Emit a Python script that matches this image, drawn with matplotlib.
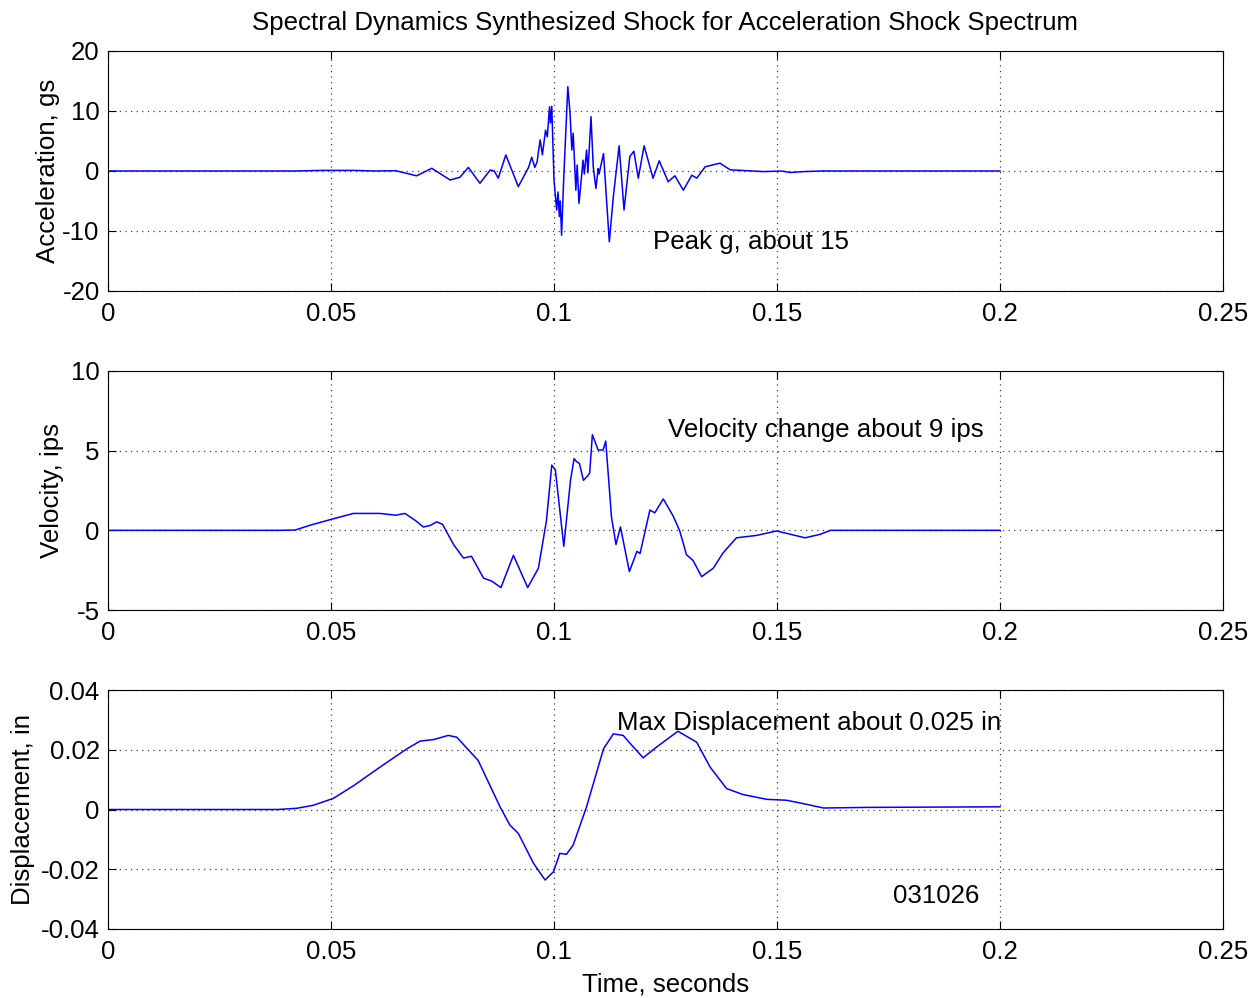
import matplotlib
matplotlib.use("Agg")
import matplotlib.pyplot as plt
import numpy as np

plt.rcParams['font.family'] = ['Liberation Sans', 'DejaVu Sans']

# ---- data ----
acc_t = [0, 0.042, 0.048, 0.055, 0.060, 0.0645, 0.0692, 0.0726, 0.0767, 0.0789,
         0.0808, 0.0834, 0.0857, 0.0866, 0.0875, 0.0892, 0.0920, 0.0943, 0.0950, 0.0957,
         0.0962, 0.0969, 0.0974, 0.0981, 0.0985, 0.0990, 0.0992, 0.0995, 0.1000, 0.1006,
         0.1009, 0.1012, 0.1014, 0.1017, 0.1022, 0.1031, 0.1036, 0.1040, 0.1043, 0.1049,
         0.1052, 0.1056, 0.1062, 0.1065, 0.1068, 0.1073, 0.1076, 0.1083, 0.1088, 0.1094,
         0.1099, 0.1101, 0.1111, 0.1124, 0.1133, 0.1146, 0.1157, 0.1170, 0.1179, 0.1189,
         0.1202, 0.1222, 0.1236, 0.1256, 0.1271, 0.1290, 0.1309, 0.1320, 0.1339, 0.1372,
         0.1395, 0.1420, 0.1470, 0.1510, 0.1530, 0.1560, 0.1600, 0.2000]
acc_g = [0, 0, 0.1, 0.1, 0.0, 0.05, -0.8, 0.45, -1.5, -1.05,
         0.6, -2.05, 0.17, 0.0, -1.2, 2.67, -2.6, 0.6, 2.3, 0.6,
         1.5, 5.2, 2.7, 6.8, 5.7, 10.7, 8.0, 10.8, -1.5, -6.5,
         -3.5, -7.6, -5.0, -10.7, -0.9, 14.05, 9.6, 3.5, 6.3, -3.2,
         1.0, -5.4, -0.7, 1.8, -0.5, 3.5, -0.3, 9.05, 0.7, -2.9,
         0.4, -0.5, 2.9, -11.8, -4.3, 4.2, -6.5, 2.4, 3.3, -1.2,
         4.2, -1.2, 1.7, -1.8, -0.8, -3.2, -0.7, -1.2, 0.7, 1.3,
         0.2, 0.1, -0.1, 0.0, -0.25, -0.1, 0.0, 0.0]

vel_t = [0, 0.0386, 0.0420, 0.0453, 0.0502, 0.0550, 0.0610, 0.0645, 0.0666, 0.0690,
         0.0707, 0.0722, 0.0737, 0.0750, 0.0775, 0.0797, 0.0815, 0.0842, 0.0860, 0.0881,
         0.0909, 0.0941, 0.0965, 0.0983, 0.0995, 0.1003, 0.1022, 0.1037, 0.1045, 0.1051,
         0.1057, 0.1066, 0.1075, 0.1080, 0.1086, 0.1099, 0.1110, 0.1116, 0.1129, 0.1139,
         0.1149, 0.1169, 0.1186, 0.1193, 0.1215, 0.1226, 0.1245, 0.1267, 0.1282, 0.1297,
         0.1312, 0.1331, 0.1357, 0.1379, 0.1409, 0.1454, 0.1499, 0.1563, 0.1597, 0.1620,
         0.2000]
vel_ips = [0, 0, 0.02, 0.32, 0.7, 1.06, 1.06, 0.95, 1.06, 0.6,
           0.21, 0.3, 0.53, 0.38, -0.9, -1.74, -1.63, -3.0, -3.18, -3.59,
           -1.57, -3.59, -2.38, 0.59, 4.09, 3.8, -1.0, 3.14, 4.5, 4.3,
           4.2, 3.14, 3.4, 3.6, 6.0, 5.04, 5.04, 5.6, 0.8, -0.89,
           0.21, -2.59, -1.32, -1.45, 1.27, 1.1, 1.97, 0.91, -0.04, -1.53,
           -1.9, -2.91, -2.38, -1.42, -0.47, -0.32, -0.04, -0.47, -0.25, 0.0,
           0.0]

disp_t = [0, 0.038, 0.0423, 0.0460, 0.0505, 0.0550, 0.0610, 0.0670, 0.0700, 0.0730,
          0.0763, 0.0782, 0.0830, 0.0879, 0.0901, 0.0920, 0.0954, 0.0980, 0.0999, 0.1013,
          0.1028, 0.1043, 0.1073, 0.1111, 0.1133, 0.1155, 0.1178, 0.1200, 0.1230, 0.1278,
          0.1320, 0.1350, 0.1387, 0.1424, 0.1477, 0.1521, 0.1558, 0.1604, 0.1701, 0.2000]
disp_in = [0, 0, 0.0004, 0.0014, 0.0037, 0.0079, 0.0142, 0.0203, 0.0229, 0.0234,
           0.0248, 0.0242, 0.0164, 0.0009, -0.0052, -0.008, -0.018, -0.0236, -0.0208, -0.0147,
           -0.015, -0.0119, 0.0009, 0.0203, 0.0253, 0.0248, 0.0209, 0.0173, 0.0209, 0.0262,
           0.0225, 0.0142, 0.007, 0.005, 0.0034, 0.0031, 0.002, 0.0005, 0.0007, 0.0009]

x_ticks = [0, 0.05, 0.1, 0.15, 0.2, 0.25]
x_ticklabels = ['0', '0.05', '0.1', '0.15', '0.2', '0.25']
acc_ticks = [-20, -10, 0, 10, 20]
vel_ticks = [-5, 0, 5, 10]
disp_ticks = [-0.04, -0.02, 0, 0.02, 0.04]
disp_ticklabels = ['-0.04', '-0.02', '0', '0.02', '0.04']

title = 'Spectral Dynamics Synthesized Shock for Acceleration Shock Spectrum'

W, H = 1258, 998
fig = plt.figure(figsize=(W / 100, H / 100), dpi=100)

left = 108 / W
width = (1223 - 108) / W


def make_ax(top_px, bot_px):
    return fig.add_axes([left, 1 - bot_px / H, width, (bot_px - top_px) / H])


ax1 = make_ax(51, 291)
ax2 = make_ax(371, 610)
ax3 = make_ax(690, 929)

FS = 18.6
line_kw = dict(color=(0, 0, 1), lw=1.1)

ax1.plot(acc_t, acc_g, **line_kw)
ax2.plot(vel_t, vel_ips, **line_kw)
ax3.plot(disp_t, disp_in, **line_kw)

for ax in (ax1, ax2, ax3):
    ax.set_xlim(0, 0.25)
    ax.set_xticks(x_ticks)
    ax.set_xticklabels(x_ticklabels)
    ax.grid(True, linestyle=(0, (1, 3.5)), color='0.25', linewidth=0.9)
    ax.tick_params(direction='in', length=6, width=0.8, labelsize=FS,
                   top=True, right=True, pad=6)
    ax.tick_params(axis='x', pad=8)
    for s in ax.spines.values():
        s.set_linewidth(0.8)

ax1.set_ylim(-20, 20)
ax1.set_yticks(acc_ticks)
ax1.set_yticklabels([str(v) for v in acc_ticks])
ax1.set_ylabel('Acceleration, gs', fontsize=FS, labelpad=2)
ax1.set_title(title, fontsize=FS, pad=15)
ax1.text(0.1222, -11.8, 'Peak g, about 15', fontsize=FS, va='center', ha='left')

ax2.set_ylim(-5, 10)
ax2.set_yticks(vel_ticks)
ax2.set_yticklabels([str(v) for v in vel_ticks])
ax2.set_ylabel('Velocity, ips', fontsize=FS, labelpad=5)
ax2.text(0.1256, 6.3, 'Velocity change about 9 ips', fontsize=FS, va='center', ha='left')

ax3.set_ylim(-0.04, 0.04)
ax3.set_yticks(disp_ticks)
ax3.set_yticklabels(disp_ticklabels)
ax3.set_ylabel('Displacement, in', fontsize=FS, labelpad=4)
ax3.set_xlabel('Time, seconds', fontsize=FS, labelpad=6)
ax3.text(0.1141, 0.0291, 'Max Displacement about 0.025 in', fontsize=FS, va='center', ha='left')
ax3.text(0.176, -0.029, '031026', fontsize=FS, va='center', ha='left')

fig.savefig('out.png', dpi=100)
